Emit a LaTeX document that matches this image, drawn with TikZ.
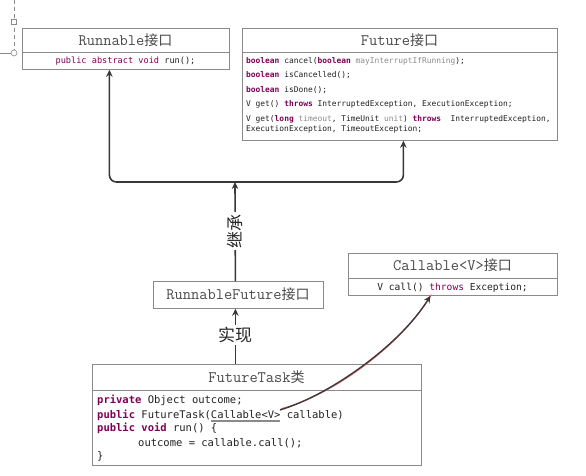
\documentclass[tikz,border=0pt]{standalone}
\usepackage{fontspec}
\usetikzlibrary{arrows.meta}
\newfontfamily\codefont{DejaVu Sans Mono}
\newfontfamily\cjk{Noto Sans CJK SC}
\definecolor{kwcol}{HTML}{7F0055}
\definecolor{prmcol}{HTML}{8C8C8C}
\definecolor{boxgray}{HTML}{8A8A8A}
\definecolor{titlegray}{HTML}{4A4A4A}
\definecolor{arrgray}{HTML}{383838}
\definecolor{codecol}{HTML}{222222}
\definecolor{shadowred}{HTML}{E07070}
\newcommand\kw[1]{\textcolor{kwcol}{\bfseries #1}}
\newcommand\prm[1]{\textcolor{prmcol}{#1}}
\newcommand\cjkt[1]{{\cjk\fontsize{14}{16}\selectfont #1}}
\tikzset{
  box/.style={draw=boxgray, line width=0.8pt, fill=white, inner sep=0pt, anchor=north west},
  divider/.style={draw=boxgray, line width=0.8pt},
  title/.style={text=titlegray, inner sep=0pt, font=\ttfamily\fontsize{16}{18}\selectfont},
  code/.style={text=codecol, inner sep=0pt, anchor=base west, font=\codefont\fontsize{7.9}{9}\selectfont},
  bigcode/.style={code, font=\codefont\fontsize{10.5}{12}\selectfont},
  arr/.style={draw=arrgray, line width=1.6pt, -{Stealth[length=7pt,width=6.5pt]}},
  rel/.style={fill=white, inner sep=2pt, text=black!85, font=\cjk\fontsize{17}{18}\selectfont},
  handle/.style={draw=boxgray, line width=0.6pt, fill=white},
}
\begin{document}
\begin{tikzpicture}[x=1pt, y=-1pt]
\useasboundingbox[fill=white] (0,0) rectangle (586,476);

% editor handles at top left
\draw[boxgray, line width=0.6pt, dash pattern=on 4pt off 3pt] (14,0) -- (14,50);
\draw[boxgray, line width=0.6pt] (0,53) -- (11,53);
\draw[handle] (11.5,19.5) rectangle (16.5,24.5);
\draw[handle] (14,53) circle (3);

% Runnable
\node[box, minimum width=207, minimum height=41] (runnable) at (22,28) {};
\draw[divider] (22,52) -- (229,52);
\node[title] (runnableT) at (125.5,40) {Runnable\cjkt{接口}};
\node[code, anchor=base, font=\codefont\fontsize{8.6}{10}\selectfont] (runnableM) at (125.5,63.5)
  {\textcolor{kwcol}{public abstract void} run();};

% Future
\node[box, minimum width=315, minimum height=112] (future) at (242,28) {};
\draw[divider] (242,52) -- (557,52);
\node[title] (futureT) at (399.5,40) {Future\cjkt{接口}};
\node[code] (f1) at (246,63.5) {\kw{boolean} cancel(\kw{boolean} \prm{mayInterruptIfRunning});};
\node[code] (f2) at (246,77.5) {\kw{boolean} isCancelled();};
\node[code] (f3) at (246,93) {\kw{boolean} isDone();};
\node[code] (f4) at (246,107) {V get() \kw{throws} InterruptedException, ExecutionException;};
\node[code] (f5) at (246,122) {V get(\kw{long} \prm{timeout}, TimeUnit \prm{unit}) \kw{throws}\ \ InterruptedException,};
\node[code] (f6) at (246,131.5) {ExecutionException, TimeoutException;};

% Callable
\node[box, minimum width=209, minimum height=42] (callable) at (348,253) {};
\draw[divider] (348,278) -- (557,278);
\node[title] (callableT) at (452.5,265.5) {Callable<V>\cjkt{接口}};
\node[code, anchor=base, font=\codefont\fontsize{9.6}{11}\selectfont] (callableM) at (452.5,290)
  {V call() \textcolor{kwcol}{throws} Exception;};

% RunnableFuture
\node[box, minimum width=170, minimum height=27] (rf) at (153,281) {};
\node[title] (rfT) at (238,294.5) {RunnableFuture\cjkt{接口}};

% FutureTask
\node[box, minimum width=329, minimum height=101] (ft) at (92,364) {};
\draw[divider] (92,390) -- (421,390);
\node[title] (ftT) at (256.5,377) {FutureTask\cjkt{类}};
\node[bigcode] (t1) at (97,403.5) {\kw{private} Object outcome;};
\node[bigcode] (t2) at (97,418) {\kw{public} FutureTask(Callable<V> callable)};
\node[bigcode] (t3) at (97,431.5) {\kw{public} \kw{void} run() \{};
\node[bigcode] (t4) at (138,446) {outcome = callable.call();};
\node[bigcode] (t5) at (97,459) {\}};
\draw[boxgray, line width=1.8pt] (211,421) -- (280,421);

% inheritance bus
\coordinate (bus) at (235,182);
\draw[arr, rounded corners=7pt] (bus) -| ([xshift=-16.5pt]runnable.south);
\draw[arr, rounded corners=7pt] (bus) -| ([xshift=3.5pt]future.south);
\draw[arr] ([xshift=-3pt]rf.north) -- (bus);
\node[rel, rotate=90] (inherit) at (235,231) {继承};

% realisation
\draw[arr] ([xshift=-21.5pt]ft.north) -- ([xshift=-3pt]rf.south);
\node[rel] (impl) at (235,335) {实现};

% dependency curve
\coordinate (cstart) at (280,410);
\coordinate (cend) at ([xshift=-22.5pt]callable.south);
\draw[shadowred, line width=1.2pt] ([shift={(1pt,1.2pt)}]cstart) .. controls (331,396) and (401,346) .. ([shift={(1pt,1.2pt)}]cend);
\draw[arr, line width=1.3pt] (cstart) .. controls (330,395) and (400,345) .. (cend);
\end{tikzpicture}
\end{document}
